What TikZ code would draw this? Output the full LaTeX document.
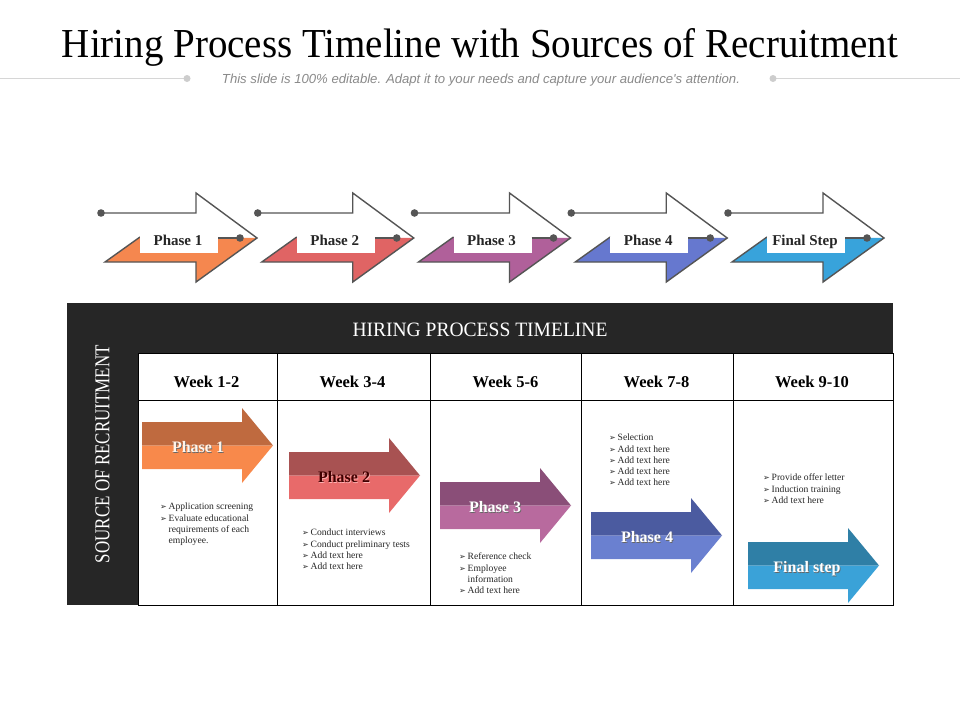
\documentclass[tikz,border=0pt]{standalone}
\usepackage{fontspec}
\setmainfont{Liberation Serif}
\newfontfamily\subfont{Liberation Sans}
\newfontfamily\symfont{DejaVu Sans}
\usepackage{graphicx}
\definecolor{tblk}{HTML}{262626}
\definecolor{outl}{HTML}{555555}
\definecolor{subgray}{HTML}{8A8A8A}
\definecolor{linegray}{HTML}{D6D6D6}
\definecolor{aA}{HTML}{F5874F}\definecolor{aAt}{HTML}{BF6A3F}\definecolor{aAb}{HTML}{F8894B}
\definecolor{aB}{HTML}{E06464}\definecolor{aBt}{HTML}{A85252}\definecolor{aBb}{HTML}{E86A6A}
\definecolor{aC}{HTML}{B0609A}\definecolor{aCt}{HTML}{8A4E78}\definecolor{aCb}{HTML}{B86A9E}
\definecolor{aD}{HTML}{6678CF}\definecolor{aDt}{HTML}{4B5BA0}\definecolor{aDb}{HTML}{6A80D0}
\definecolor{aE}{HTML}{38A3DB}\definecolor{aEt}{HTML}{2F7FA6}\definecolor{aEb}{HTML}{3AA2D8}
\newcommand{\bl}[1]{\makebox[8.5pt][l]{\symfont\fontsize{8}{8}\selectfont ➢}#1}
\newcommand{\cl}[1]{\hspace*{8.5pt}#1}
\newcommand{\shtxt}[3]{\makebox[0pt][l]{\raisebox{-0.8pt}{\hspace{0.8pt}\color{#2}#3}}{\color{#1}#3}}
\tikzset{
  outline/.style={draw=outl, line width=1.4pt, line join=miter},
  toplab/.style={font=\bfseries\fontsize{15}{15}\selectfont, text=black!85, inner sep=0pt, anchor=base},
  weeklab/.style={font=\bfseries\fontsize{16.5}{16.5}\selectfont, text=black, inner sep=0pt, anchor=base},
  armlab/.style={font=\bfseries\fontsize{16}{16}\selectfont, inner sep=0pt, anchor=base},
  bullets/.style={font=\fontsize{9.6}{11.2}\selectfont, align=left, anchor=north west, inner sep=0pt, text=black!85},
  gridline/.style={draw=black, line width=1pt},
}
\begin{document}
\begin{tikzpicture}[x=1pt,y=-1pt]
\useasboundingbox (0,0) rectangle (960,720);
\fill[white] (0,0) rectangle (960,720);
% title
\node[anchor=base, inner sep=0pt] (title) at (480,57) {\resizebox{836pt}{29pt}{\fontsize{38}{38}\selectfont Hiring Process Timeline with Sources of Recruitment}};
\node[anchor=base, inner sep=0pt, text=subgray] (subtitle) at (481,83.5) {\resizebox{518pt}{9.5pt}{\subfont\itshape\fontsize{12}{12}\selectfont This slide is 100\% editable. Adapt it to your needs and capture your audience's attention.}};
\coordinate (dl) at (187,78.5);
\coordinate (dr) at (773,78.5);
\draw[linegray, line width=0.8pt] (0,78.5) -- (dl);
\draw[linegray, line width=0.8pt] (dr) -- (960,78.5);
\fill[linegray!90!gray] (dl) circle (3.5);
\fill[linegray!90!gray] (dr) circle (3.5);
% top arrows
\foreach \i/\c/\lab in {0/aA/Phase 1, 1/aB/Phase 2, 2/aC/Phase 3, 3/aD/Phase 4, 4/aE/Final Step}{
  \begin{scope}[shift={(\i*156.75,0)}]
    \fill[\c] (105,262) -- (140,237) -- (257,238) -- (196,282) -- (196,262) -- cycle;
    \draw[outline] (140,237) -- (105,262) -- (196,262) -- (196,282) -- (257,238) -- (196,193) -- (196,213) -- (101,213);
    \fill[white] (140,237) rectangle (218,253);
    \draw[outline] (218,238) -- (240,238);
    \fill[outl] (101,213) circle (3.8);
    \fill[outl] (240,238) circle (3.8);
    \node[toplab] (top\i) at (178,245.5) {\lab};
  \end{scope}
}
% table
\fill[tblk] (67,303) rectangle (893,605);
\fill[white] (138,353) rectangle (893,605);
\draw[gridline] (138,353) rectangle (893,605);
\draw[gridline] (138,400) -- (893,400);
\foreach \x in {277,430,581,733}{ \draw[gridline] (\x,353) -- (\x,605); }
\node[inner sep=0pt, text=white] (hdr) at (480,329.5) {\resizebox{255pt}{13.5pt}{\fontsize{18}{18}\selectfont HIRING PROCESS TIMELINE}};
\node[inner sep=0pt, text=white, rotate=90] (src) at (102.5,454) {\resizebox{218pt}{14pt}{\fontsize{18}{18}\selectfont SOURCE OF RECRUITMENT}};
\node[weeklab] (w1) at (206.5,387) {Week 1-2};
\node[weeklab] (w2) at (352.5,387) {Week 3-4};
\node[weeklab] (w3) at (505.5,387) {Week 5-6};
\node[weeklab] (w4) at (656.5,387) {Week 7-8};
\node[weeklab] (w5) at (812,387) {Week 9-10};
% body arrows
\foreach \n/\x/\y/\ct/\cb in {1/142/422/aAt/aAb, 2/289/452/aBt/aBb, 3/440/482/aCt/aCb, 4/591/512/aDt/aDb, 5/748/542/aEt/aEb}{
  \fill[\ct] (\x,\y) -- (\x+100,\y) -- (\x+100,\y-14) -- (\x+131,\y+23.5) -- (\x,\y+23.5) -- cycle;
  \fill[\cb] (\x,\y+23.5) -- (\x+131,\y+23.5) -- (\x+100,\y+61) -- (\x+100,\y+47) -- (\x,\y+47) -- cycle;
}
\node[armlab] (p1) at (198,452.5) {\shtxt{orange!8}{black!60}{Phase 1}};
\node[armlab] (p2) at (344,482.5) {\shtxt{black!75!red}{white!70!red}{Phase 2}};
\node[armlab] (p3) at (495,512.5) {\shtxt{white}{black!60}{Phase 3}};
\node[armlab] (p4) at (647,542.5) {\shtxt{white}{black!60}{Phase 4}};
\node[armlab] (p5) at (807,572.5) {\shtxt{white}{black!60}{Final step}};
% bullets
\node[bullets] (b1) at (160,503) {\bl{Application screening}\\ \bl{Evaluate educational}\\ \cl{requirements of each}\\ \cl{employee.}};
\node[bullets] (b2) at (302,529) {\bl{Conduct interviews}\\ \bl{Conduct preliminary tests}\\ \bl{Add text here}\\ \bl{Add text here}};
\node[bullets] (b3) at (459,553) {\bl{Reference check}\\ \bl{Employee}\\ \cl{information}\\ \bl{Add text here}};
\node[bullets] (b4) at (609,434) {\bl{Selection}\\ \bl{Add text here}\\ \bl{Add text here}\\ \bl{Add text here}\\ \bl{Add text here}};
\node[bullets] (b5) at (763,474) {\bl{Provide offer letter}\\ \bl{Induction training}\\ \bl{Add text here}};
\end{tikzpicture}
\end{document}
